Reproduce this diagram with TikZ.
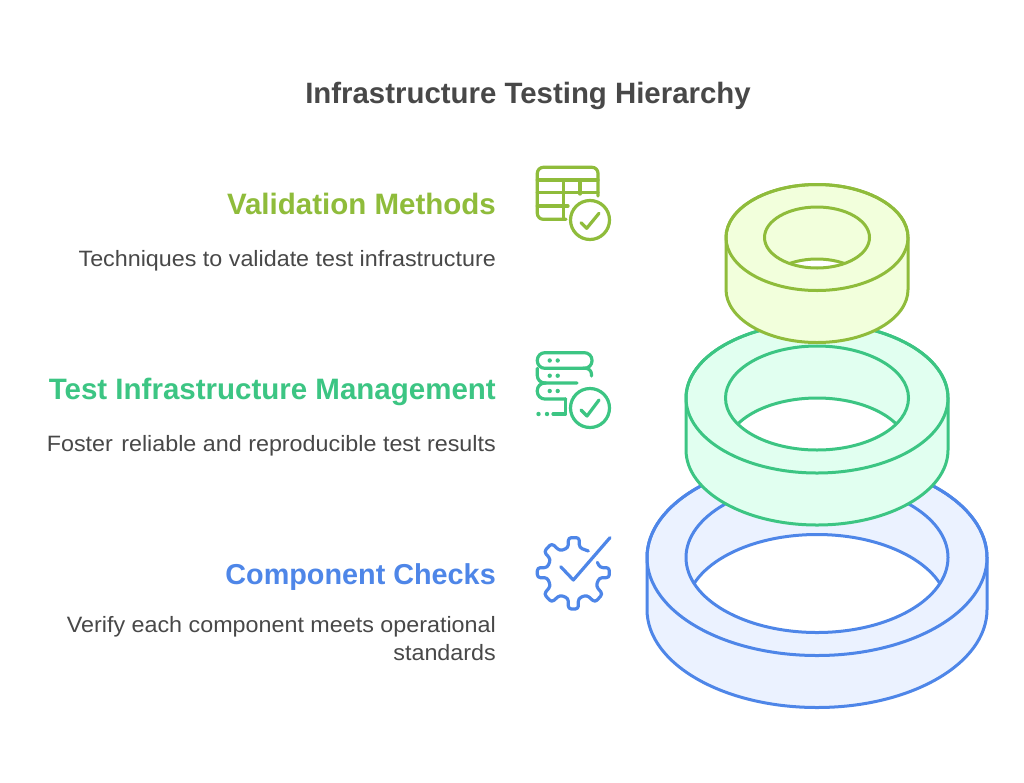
\documentclass[tikz,border=0pt]{standalone}
\usepackage{fontspec}
\setmainfont{Liberation Sans}
\newfontfamily\descfont[FakeStretch=1.05]{Liberation Sans}
\definecolor{limeL}{HTML}{8FBC3B}
\definecolor{limeF}{HTML}{F2FFDC}
\definecolor{mintL}{HTML}{3CC583}
\definecolor{mintF}{HTML}{E1FFF0}
\definecolor{blueL}{HTML}{4E86E8}
\definecolor{blueF}{HTML}{EBF2FF}
\definecolor{inkT}{HTML}{484848}
% cx cy rx ry innerrx innerry height line fill
\newcommand{\ringdraw}[9]{%
  \fill[#9] (#1-#3,#2) arc[start angle=180,end angle=360,x radius=#3,y radius=#4]
     -- (#1+#3,#2+#7) arc[start angle=0,end angle=180,x radius=#3,y radius=#4] -- cycle;
  \draw[ringline,#8] (#1-#3,#2) arc[start angle=180,end angle=360,x radius=#3,y radius=#4]
     -- (#1+#3,#2+#7) arc[start angle=0,end angle=180,x radius=#3,y radius=#4] -- cycle;
  \draw[ringline,#8] (#1,#2) ellipse[x radius=#3,y radius=#4];
  \begin{scope}
    \clip (#1,#2) ellipse[x radius=#5,y radius=#6];
    \draw[ringline,#8,fill=white] (#1,#2+#7) ellipse[x radius=#5,y radius=#6];
  \end{scope}
  \draw[ringline,#8] (#1,#2) ellipse[x radius=#5,y radius=#6];
}
\tikzset{
  x=1pt,y=-1pt,
  ringline/.style={line width=3pt,line join=round},
  iconline/.style={line width=3.2pt,line cap=round,line join=round},
  heading/.style={anchor=base east,inner sep=0pt,font=\fontsize{29.5}{32}\selectfont\bfseries},
  desc/.style={anchor=base east,inner sep=0pt,text=inkT,font=\descfont\fontsize{22.2}{28}\selectfont,align=right},
  titletext/.style={anchor=base,inner sep=0pt,text=inkT,font=\fontsize{29.4}{32}\selectfont\bfseries},
}
\begin{document}
\begin{tikzpicture}
\useasboundingbox[fill=white] (0,0) rectangle (1024,782);
\ringdraw{817}{557.5}{170}{98}{131}{75}{52}{blueL}{blueF}
\ringdraw{817}{398}{131}{75}{91.5}{52}{52}{mintL}{mintF}
\ringdraw{817}{237.5}{91}{53}{52.5}{30.5}{52}{limeL}{limeF}

\node[titletext] (title) at (528,103) {Infrastructure Testing Hierarchy};
\node[heading,text=limeL] (h1) at (496,214) {Validation Methods};
\node[desc] (d1) at (496,266) {Techniques to validate test infrastructure};
\node[heading,text=mintL] (h2) at (496,399) {Test Infrastructure Management};
\node[desc] (d2) at (496,451) {Foster\ \kern-4.5pt\ reliable and reproducible test results};
\node[heading,text=blueL,font=\fontsize{28.8}{32}\selectfont\bfseries] (h3) at (496,584) {Component Checks};
\node[desc] (d3) at (496,632) {Verify each component meets operational};
\node[desc] (d4) at (496,660) {standards};

% table icon
\begin{scope}[iconline,limeL]
  \draw[rounded corners=6pt] (566,219.3) -- (537.3,219.3) -- (537.3,167.3) -- (598,167.3) -- (598,196);
  \draw (537.3,180) -- (598,180);
  \draw (537.3,192.5) -- (598,192.5);
  \draw (537.3,206) -- (568,206);
  \draw (563.3,180) -- (563.3,219.3);
  \draw (580,180) -- (580,194);
  \draw (590,220) circle[radius=19.5];
  \draw (581,222.7) -- (586.7,228.3) -- (599,213.3);
\end{scope}

% server icon
\begin{scope}[iconline,mintL]
  \draw[rounded corners=7.5pt] (537.3,352.7) rectangle (592,368.3);
  \draw[rounded corners=7.5pt] (577,383) -- (537.3,383) -- (537.3,368.3);
  \draw[rounded corners=6pt] (583,368.3) -- (591.5,368.3) -- (591.5,376);
  \draw[rounded corners=7.5pt] (565.7,399) -- (537.3,399) -- (537.3,383) -- (546,383);
  \draw (565.7,399) -- (565.7,414) -- (553,414);
  \foreach \px/\py in {549.7/360.5,557.7/360.5,549.7/375.7,557.7/375.7,549.7/391,557.7/391,538.5/414,547/414}
    \fill (\px,\py) circle[radius=2.2pt];
  \draw (590,408) circle[radius=19.5];
  \draw (581,410) -- (587,416) -- (599,400);
\end{scope}

% gear icon
\begin{scope}[iconline,blueL,shift={(520,525)},x=0.3333pt,y=-0.3333pt]
  \draw[rounded corners=3pt] (205,78) -- (178,68) -- (178,38) -- (145,38) -- (145,68) -- (120,78)
     -- (95,55) -- (72,80) -- (92,103) -- (82,128) -- (52,128) -- (52,158) -- (82,158) -- (92,183)
     -- (72,207) -- (95,232) -- (120,210) -- (145,220) -- (145,252) -- (175,252) -- (175,220)
     -- (200,210) -- (225,232) -- (248,207) -- (228,183) -- (238,158) -- (268,158) -- (268,128)
     -- (240,128) -- (232,112);
  \draw (122,125) -- (160,165) -- (270,38);
\end{scope}
\end{tikzpicture}
\end{document}
